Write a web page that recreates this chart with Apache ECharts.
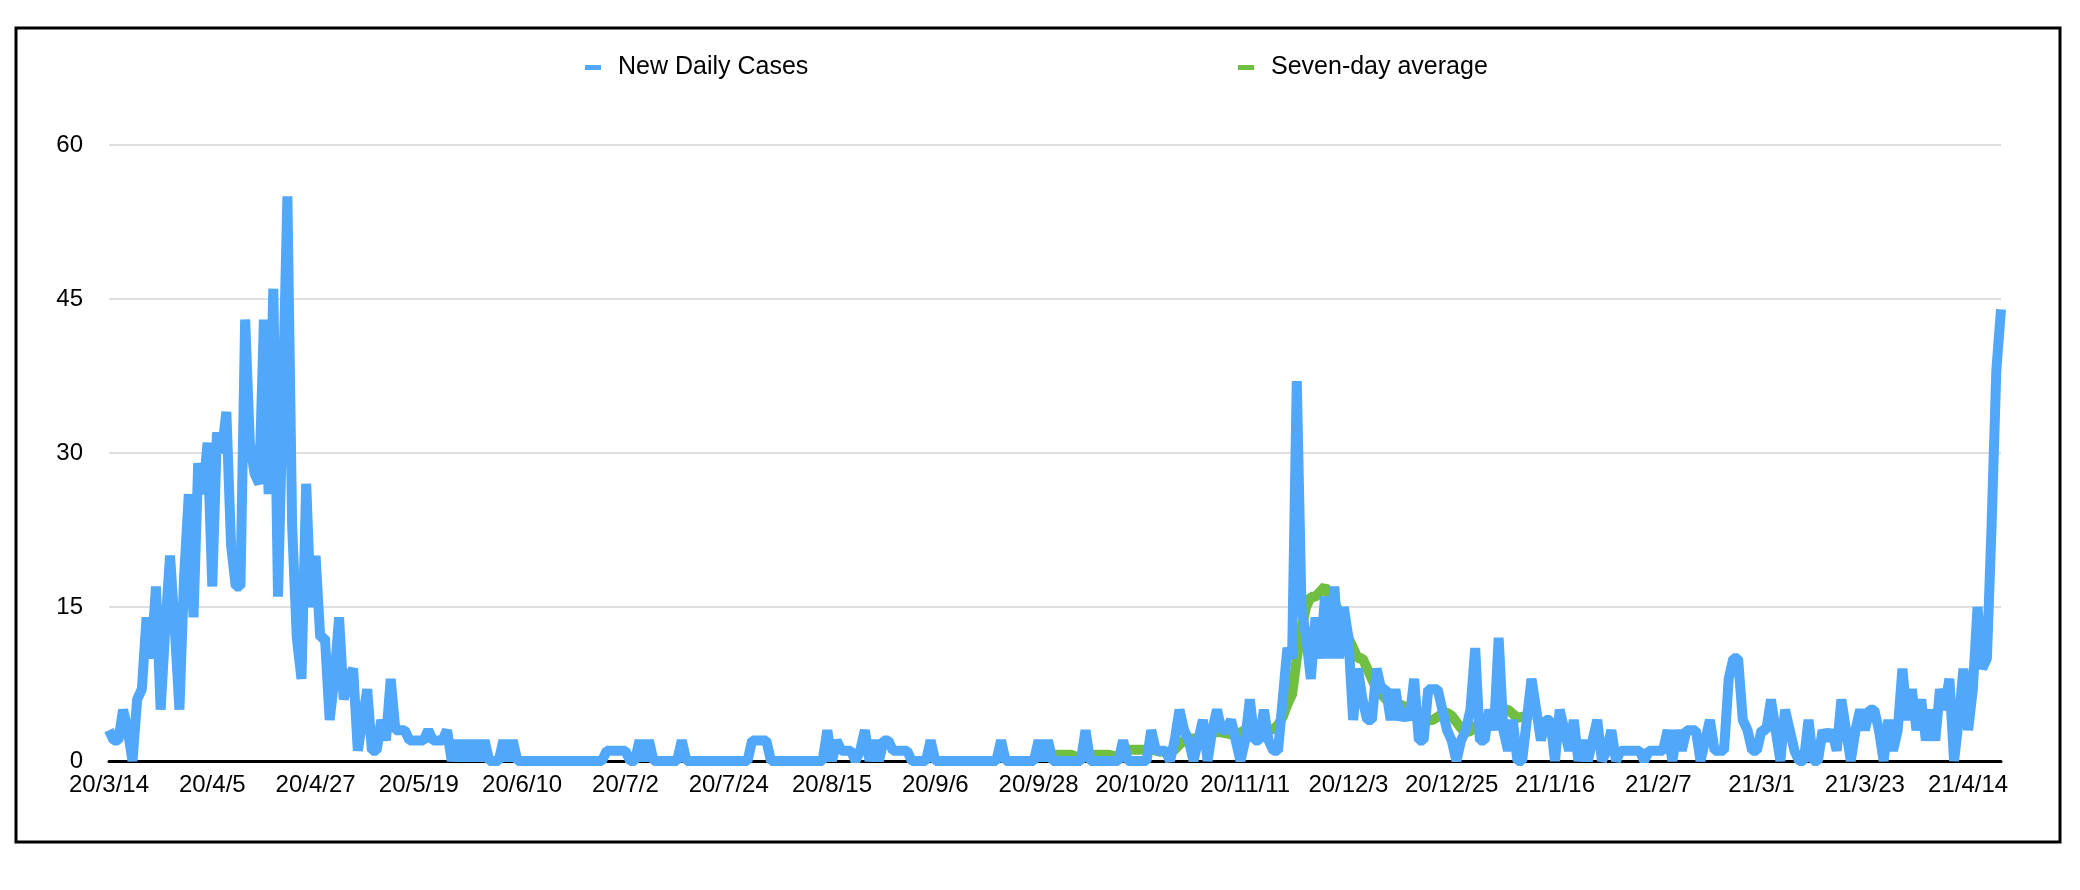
<!DOCTYPE html>
<html><head><meta charset="utf-8">
<script src="https://cdn.jsdelivr.net/npm/echarts@6/dist/echarts.min.js"></script>
<style>html,body{margin:0;padding:0;background:#fff}#c{width:2080px;height:890px}</style>
</head><body><div id="c"></div>
<script>
// ---- data ----
const startDate = [2020, 3, 14];   // first category (year, month, day)
const dayCount = 404;              // number of daily categories
const yTicks = [0, 15, 30, 45, 60];
const seriesNames = ['New Daily Cases', 'Seven-day average'];

const newDailyCases = [
  3,2,2,5,3,0,6,7,14,10,
  17,5,13,20,13,5,18,26,14,29,
  26,31,17,32,30,34,21,17,17,43,
  31,28,27,43,26,46,16,35,55,23,
  12,8,27,15,20,12,12,4,8,14,
  6,8,9,1,4,7,1,1,4,2,
  8,3,3,3,2,2,2,2,3,2,
  2,2,3,0,2,0,2,0,2,0,
  2,0,0,0,2,0,2,0,0,0,
  0,0,0,0,0,0,0,0,0,0,
  0,0,0,0,0,0,1,1,1,1,
  1,0,0,2,0,2,0,0,0,0,
  0,0,2,0,0,0,0,0,0,0,
  0,0,0,0,0,0,0,2,2,2,
  2,0,0,0,0,0,0,0,0,0,
  0,0,0,3,0,2,1,1,1,0,
  1,3,0,2,0,2,2,1,1,1,
  1,0,0,0,0,2,0,0,0,0,
  0,0,0,0,0,0,0,0,0,0,
  2,0,0,0,0,0,0,0,2,0,
  2,0,0,0,0,0,0,0,3,0,
  0,0,0,0,0,0,2,0,0,0,
  0,0,3,1,1,1,0,2,5,3,
  2,0,2,4,0,3,5,3,3,4,
  2,0,2,6,2,2,5,2,1,1,
  6,11,10,37,15,12,8,14,10,16,
  10,17,10,15,12,4,9,6,4,4,
  9,7,7,4,7,4,5,4,8,2,
  2,7,7,7,5,3,2,0,2,3,
  5,11,2,2,5,3,12,3,1,4,
  0,0,4,8,5,2,4,4,0,5,
  3,1,4,0,2,0,2,4,0,1,
  3,0,1,1,1,1,1,0,1,1,
  1,1,3,0,3,1,3,3,3,0,
  2,4,1,1,1,8,10,10,4,3,
  1,1,3,3,6,3,0,5,3,1,
  0,0,4,0,0,3,2,3,1,6,
  3,0,3,5,3,5,5,3,0,4,
  1,3,9,4,7,3,6,2,5,2,
  7,5,8,0,4,9,3,7,15,9,
  10,23,38,44
];

const avgStartIndex = 199;         // category index where the average line begins
const sevenDayAverage = [
  0.4,0.6,0.6,0.6,0.6,0.6,0.6,0.4,0.3,0.5,
  0.5,0.6,0.6,0.6,0.6,0.5,0.4,1.0,1.1,1.1,
  1.1,1.1,1.1,1.1,1.0,0.9,0.9,0.9,1.1,1.6,
  2.0,2.2,2.2,2.2,2.4,2.6,2.8,2.8,2.8,2.7,
  2.6,2.5,2.8,3.0,3.2,3.2,3.1,3.1,3.0,3.1,
  3.5,4.3,5.5,6.5,10,13,15,16,16,16.5,
  17,16,15.5,14.5,13.5,12,11,10,10,9,
  8,7,6.5,6,6,5.8,5.5,5.3,5,4.5,
  4.2,4,4,4,4.3,4.6,4.7,4.4,3.8,3.2,
  2.8,2.9,3.4,3.6,3.8,4.2,4.5,4.8,5,5,
  4.6,4.2,4.3,4.4,4.5
];

// ---- build categories ----
const categories = [];
{
  const d0 = new Date(startDate[0], startDate[1] - 1, startDate[2]);
  for (let i = 0; i < dayCount; i++) {
    const d = new Date(d0.getFullYear(), d0.getMonth(), d0.getDate() + i);
    categories.push((d.getFullYear() - 2000) + '/' + (d.getMonth() + 1) + '/' + d.getDate());
  }
}
const avgData = categories.map((_, i) => {
  const k = i - avgStartIndex;
  return (k >= 0 && k < sevenDayAverage.length) ? sevenDayAverage[k] : null;
});

const FONT = '"Liberation Sans", Arial, Helvetica, sans-serif';
const BLUE = '#51A7F9';
const GREEN = '#70BF41';

const chart = echarts.init(document.getElementById('c'), null, {renderer: 'canvas'});
chart.setOption({
  animation: false,
  backgroundColor: '#fff',
  graphic: [{
    type: 'rect', silent: true, z: 0,
    shape: {x: 16, y: 28, width: 2044, height: 814},
    style: {fill: 'none', stroke: '#000', lineWidth: 3}
  }],
  legend: [{
    data: [seriesNames[0]], left: 580, top: 50, icon: 'rect',
    itemWidth: 16, itemHeight: 5,
    textStyle: {fontSize: 25, color: '#000', fontFamily: FONT, padding: [0, 0, 0, 12]}
  }, {
    data: [seriesNames[1]], left: 1233, top: 50, icon: 'rect',
    itemWidth: 16, itemHeight: 5,
    textStyle: {fontSize: 25, color: '#000', fontFamily: FONT, padding: [0, 0, 0, 12]}
  }],
  grid: {left: 109, right: 79, top: 145, bottom: 129, containLabel: false},
  xAxis: {
    type: 'category', data: categories, boundaryGap: false,
    axisLine: {show: true, lineStyle: {color: '#000', width: 3}},
    axisTick: {show: false},
    axisLabel: {interval: 21, color: '#000', fontSize: 24, fontFamily: FONT, margin: 12},
    splitLine: {show: false}
  },
  yAxis: {
    type: 'value', min: yTicks[0], max: yTicks[yTicks.length - 1], interval: yTicks[1] - yTicks[0],
    axisLine: {show: false}, axisTick: {show: false},
    axisLabel: {color: '#000', fontSize: 24, fontFamily: FONT, margin: 26},
    splitLine: {lineStyle: {color: '#d4d4d4', width: 1.5}}
  },
  series: [{
    name: seriesNames[1], type: 'line', data: avgData, showSymbol: false, z: 2,
    lineStyle: {color: GREEN, width: 10, join: 'bevel'}, itemStyle: {color: GREEN},
    connectNulls: false
  }, {
    name: seriesNames[0], type: 'line', data: newDailyCases, showSymbol: false, z: 3,
    lineStyle: {color: BLUE, width: 10, join: 'bevel'}, itemStyle: {color: BLUE}
  }]
});
</script>
</body></html>
